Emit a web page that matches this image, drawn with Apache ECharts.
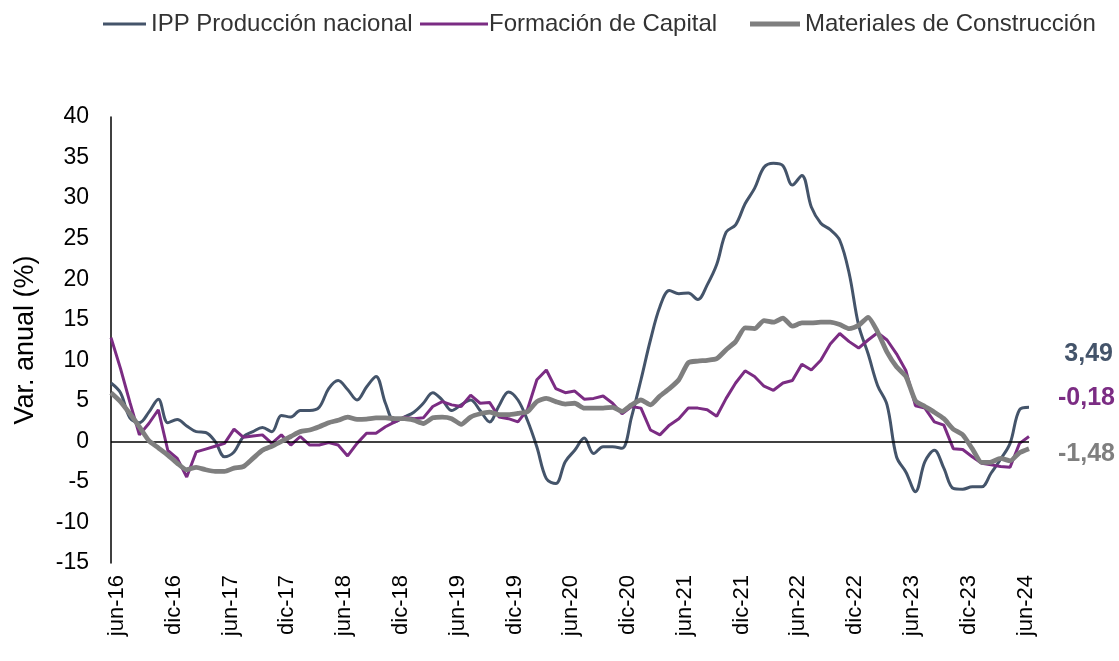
<!DOCTYPE html>
<html>
<head>
    <meta charset="utf-8">
    <title>IPP - Producción nacional</title>
    <script src="https://cdn.jsdelivr.net/npm/echarts@6/dist/echarts.min.js"></script>
    <style>
        html, body { margin: 0; padding: 0; background: #fff; }
        #main { width: 1119px; height: 661px; }
    </style>
</head>
<body>
<div id="main"></div>
<script type="text/javascript">
    // meses jun-16 ... jul-24
    var monthNames = ['ene', 'feb', 'mar', 'abr', 'may', 'jun', 'jul', 'ago', 'sep', 'oct', 'nov', 'dic'];
    var categories = [];
    for (var k = 0; k < 98; k++) {
        var m = (5 + k) % 12;
        var y = 16 + Math.floor((5 + k) / 12);
        categories.push(monthNames[m] + '-' + y);
    }

    var seriesNames = ['IPP Producción nacional', 'Formación de Capital', 'Materiales de Construcción'];

    var ippNacional = [
        7.2, 6.0, 2.9, 2.3, 3.6, 5.2, 2.3, 2.7, 1.9, 1.2, 1.1, 0.0,
        -1.9, -1.3, 0.6, 1.2, 1.7, 1.2, 3.2, 3.0, 3.8, 3.8, 4.2, 6.5,
        7.5, 6.4, 5.1, 6.7, 8.0, 4.7, 2.4, 3.0, 3.6, 4.7, 6.0, 5.1,
        3.8, 4.5, 5.1, 3.8, 2.4, 4.4, 6.1, 5.1, 2.6, -0.7, -4.6, -5.2,
        -2.5, -1.1, 0.4, -1.5, -0.65, -0.65, -0.85, 3.0, 7.6, 12.5, 16.6, 18.6,
        18.2, 18.3, 17.5, 19.3, 21.8, 25.8, 26.7, 29.3, 31.2, 33.8, 34.3, 34.0,
        31.6, 32.8, 28.9, 26.9, 26.1, 24.8, 20.7, 14.3, 10.8, 6.9, 4.5, -1.9,
        -3.8, -6.2, -2.5, -1.1, -3.3, -5.8, -5.9, -5.6, -5.6, -3.9, -2.2, -0.25,
        3.9, 4.2
    ];

    var formacionCapital = [
        12.8, 9.0, 4.8, 0.8, 2.2, 3.9, -1.1, -2.1, -4.4, -1.3, -0.95, -0.6,
        -0.25, 1.5, 0.5, 0.65, 0.8, -0.25, 0.8, -0.45, 0.6, -0.45, -0.45, -0.15,
        -0.45, -1.8, -0.25, 1.0, 1.0, 1.8, 2.4, 3.0, 2.8, 2.9, 4.3, 4.9,
        4.5, 4.3, 5.7, 4.7, 4.8, 3.0, 2.8, 2.4, 3.9, 7.6, 8.8, 6.5,
        6.0, 6.2, 5.2, 5.3, 5.6, 4.7, 3.4, 4.3, 4.1, 1.4, 0.8, 2.0,
        2.8, 4.1, 4.1, 3.9, 3.1, 5.3, 7.2, 8.7, 8.0, 6.8, 6.3, 7.2,
        7.5, 9.5, 8.8, 10.0, 12.0, 13.3, 12.3, 11.5, 12.5, 13.4, 12.5, 10.8,
        8.7, 4.4, 4.1, 2.4, 2.0, -0.9, -1.0, -1.9, -2.7, -2.9, -3.1, -3.2,
        -0.25, 0.6
    ];

    var materialesConstruccion = [
        6.0, 4.9, 3.4, 1.8, 0.1, -0.8, -1.7, -2.7, -3.5, -3.2, -3.5, -3.7,
        -3.7, -3.3, -3.1, -2.1, -1.1, -0.6, 0.0, 0.6, 1.2, 1.4, 1.8, 2.3,
        2.6, 3.0, 2.7, 2.75, 2.9, 2.9, 2.8, 2.8, 2.6, 2.2, 2.9, 3.0,
        2.8, 2.1, 3.0, 3.4, 3.6, 3.3, 3.3, 3.45, 3.65, 4.9, 5.3, 4.9,
        4.6, 4.7, 4.1, 4.1, 4.1, 4.2, 3.7, 4.5, 5.1, 4.5, 5.6, 6.5,
        7.6, 9.7, 9.9, 10.0, 10.2, 11.3, 12.3, 14.0, 13.9, 14.9, 14.7, 15.2,
        14.2, 14.6, 14.6, 14.7, 14.7, 14.4, 13.9, 14.3, 15.3, 13.5, 11.0, 9.2,
        8.0, 5.0, 4.3, 3.6, 2.8, 1.5, 0.8, -0.9, -2.6, -2.55, -2.1, -2.4,
        -1.4, -0.9
    ];

    // etiquetas finales (último dato publicado)
    var endLabels = ['3,49', '-0,18', '-1,48'];

    var colors = ['#44546a', '#7b2c83', '#7f7f7f'];
    var fontFamily = '"Liberation Sans", Arial, sans-serif';

    var dom = document.getElementById('main');
    var myChart = echarts.init(dom);

    var option = {
        animation: false,
        color: colors,
        textStyle: { fontFamily: fontFamily },
        legend: [
            {
                data: [seriesNames[0]], left: 98, top: 7,
                icon: 'rect', itemWidth: 43, itemHeight: 3, itemGap: 0,
                textStyle: { fontSize: 24, color: '#333', fontFamily: fontFamily }
            },
            {
                data: [seriesNames[1]], left: 415, top: 7,
                icon: 'rect', itemWidth: 68, itemHeight: 3, itemGap: 0,
                textStyle: { fontSize: 24, color: '#333', fontFamily: fontFamily, padding: [0, 0, 0, -4] }
            },
            {
                data: [seriesNames[2]], left: 745, top: 7,
                icon: 'rect', itemWidth: 50, itemHeight: 5, itemGap: 0,
                textStyle: { fontSize: 24, color: '#333', fontFamily: fontFamily }
            }
        ],
        grid: {
            left: 111,
            right: 90,
            top: 117,
            bottom: 98,
            outerBoundsMode: 'none'
        },
        xAxis: {
            type: 'category',
            data: categories,
            boundaryGap: false,
            axisLine: { show: false },
            axisTick: { show: false },
            splitLine: { show: false },
            axisLabel: {
                rotate: 90,
                interval: function (index) { return index % 6 === 0; },
                fontSize: 22,
                color: '#000',
                margin: 12,
                verticalAlign: 'top',
                lineHeight: 12
            }
        },
        yAxis: {
            type: 'value',
            min: -15,
            max: 40,
            interval: 5,
            name: 'Var. anual (%)',
            nameLocation: 'middle',
            nameGap: 72,
            nameTextStyle: { fontSize: 27, color: '#000' },
            splitLine: { show: false },
            axisTick: { show: false },
            axisLine: { show: true, lineStyle: { color: '#000', width: 1.5 } },
            axisLabel: { fontSize: 23, color: '#000', margin: 22 }
        },
        graphic: [
            {
                type: 'text', right: 6, top: 342,
                style: { text: endLabels[0], fill: colors[0], font: 'bold 25px ' + fontFamily, textAlign: 'right' }
            },
            {
                type: 'text', right: 4, top: 386,
                style: { text: endLabels[1], fill: colors[1], font: 'bold 25px ' + fontFamily, textAlign: 'right' }
            },
            {
                type: 'text', right: 4, top: 442,
                style: { text: endLabels[2], fill: colors[2], font: 'bold 25px ' + fontFamily, textAlign: 'right' }
            }
        ],
        series: [
            {
                name: seriesNames[0],
                type: 'line',
                data: ippNacional,
                smooth: 0.35,
                symbol: 'none',
                lineStyle: { width: 3, color: colors[0] },
                markLine: {
                    silent: true,
                    symbol: 'none',
                    label: { show: false },
                    lineStyle: { color: '#000', width: 1.5, type: 'solid' },
                    data: [{ yAxis: 0 }]
                },
                z: 3
            },
            {
                name: seriesNames[1],
                type: 'line',
                data: formacionCapital,
                symbol: 'none',
                lineStyle: { width: 3, color: colors[1] },
                z: 4
            },
            {
                name: seriesNames[2],
                type: 'line',
                data: materialesConstruccion,
                smooth: 0.2,
                symbol: 'none',
                lineStyle: { width: 4.8, color: colors[2] },
                z: 5
            }
        ]
    };

    myChart.setOption(option);
</script>
</body>
</html>
